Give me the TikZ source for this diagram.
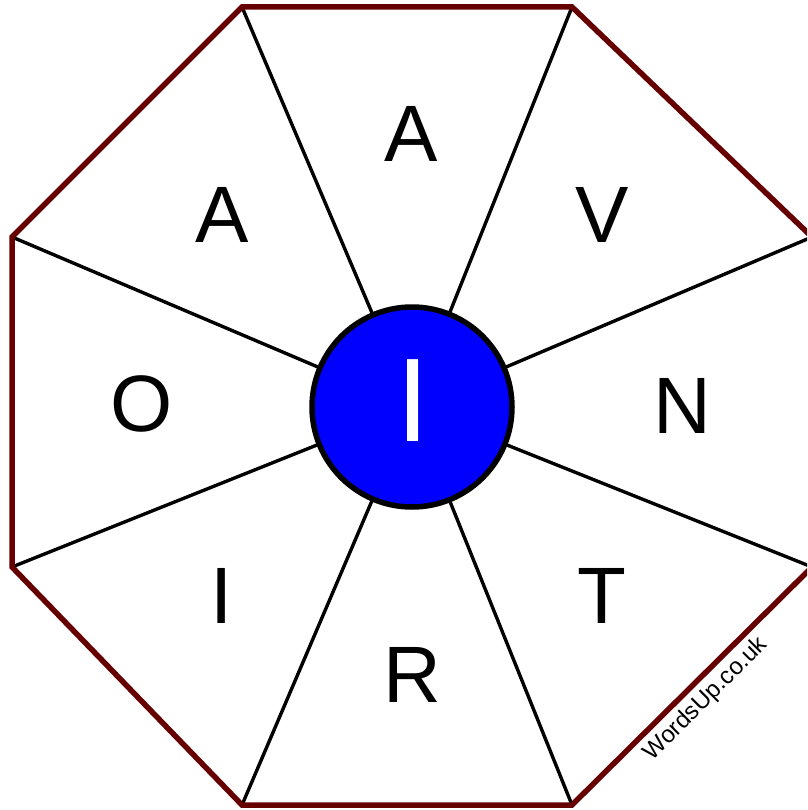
\documentclass[tikz,border=0pt]{standalone}
\usepackage{fontspec}
\setmainfont{Liberation Sans}
\definecolor{octred}{RGB}{102,0,0}
\definecolor{hubblue}{RGB}{0,0,255}
\tikzset{
  octedge/.style={draw=octred, line width=5.5pt, line join=miter},
  spoke/.style={draw=black, line width=3.4pt},
  hub/.style={circle, fill=hubblue, draw=black, line width=5.5pt, minimum size=200pt, inner sep=0pt},
  letter/.style={inner sep=0pt, font=\fontsize{80}{80}\selectfont},
  hubletter/.style={inner sep=0pt, text=white, font=\fontsize{119}{119}\selectfont},
  watermark/.style={inner sep=0pt, rotate=45, font=\fontsize{24}{24}\selectfont}
}
\begin{document}
\begin{tikzpicture}[x=1pt,y=-1pt]
\useasboundingbox (0,0) rectangle (807,810);
\clip (0,0) rectangle (807,810);
\coordinate (c) at (412,407);
\coordinate (v1) at (242,7);
\coordinate (v2) at (572,7);
\coordinate (v3) at (812,237);
\coordinate (v4) at (812,567);
\coordinate (v5) at (572,805);
\coordinate (v6) at (242,805);
\coordinate (v7) at (12,567);
\coordinate (v8) at (12,237);
\fill[white] (0,0) rectangle (807,810);
\foreach \v in {v1,v2,v3,v4,v5,v6,v7,v8} \draw[spoke] (\v) -- (c);
\draw[octedge] (v1) -- (v2) -- (v3) -- (v4) -- (v5) -- (v6) -- (v7) -- (v8) -- cycle;
\node[hub] (h) at (c) {};
\node[hubletter] (hl) at (413,401) {I};
\node[letter] (l1) at (411,134) {A};
\node[letter] (l2) at (602,215) {V};
\node[letter] (l3) at (682,406) {N};
\node[letter] (l4) at (602,596) {T};
\node[letter] (l5) at (412,675) {R};
\node[letter] (l6) at (222,596) {I};
\node[letter] (l7) at (142,404) {O};
\node[letter] (l8) at (222,215) {A};
\node[watermark] (w) at (706,699) {WordsUp.co.uk};
\end{tikzpicture}
\end{document}
